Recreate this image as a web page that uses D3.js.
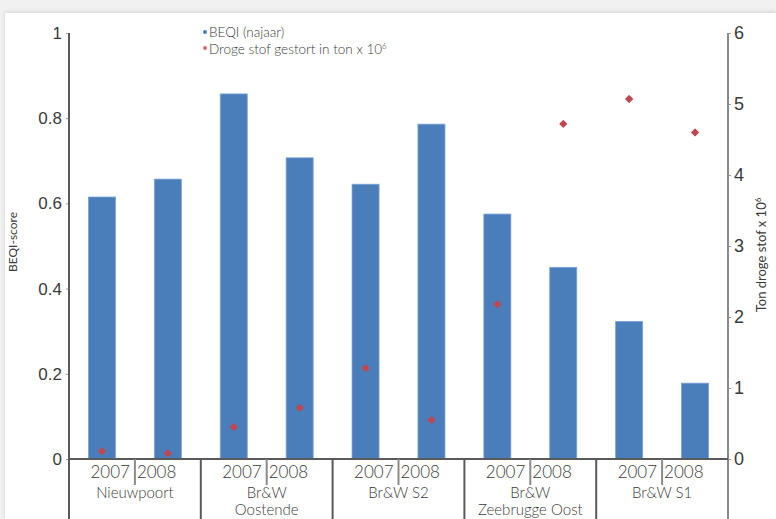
<!DOCTYPE html>
<html><head><meta charset="utf-8">
<script src="https://cdn.jsdelivr.net/npm/d3@7"></script>
<style>
html,body{margin:0;padding:0;background:#fff;}
svg{display:block;font-family:Lato,"Open Sans",sans-serif;}
</style></head>
<body>
<svg id="c" width="776" height="519"></svg>
<script>
const groups = [["Nieuwpoort"],["Br&W","Oostende"],["Br&W S2"],["Br&W","Zeebrugge Oost"],["Br&W S1"]];
const years = ["2007","2008"];
const beqi = [0.615,0.657,0.857,0.707,0.645,0.786,0.575,0.45,0.323,0.178];
const droge = [0.11,0.08,0.45,0.72,1.28,0.55,2.18,4.72,5.07,4.6];
const leftTicks = [0,0.2,0.4,0.6,0.8,1];
const rightTicks = [0,1,2,3,4,5,6];

const svg = d3.select("#c");
svg.append("rect").attr("x",0).attr("y",0).attr("width",776).attr("height",519).attr("fill","#f1f1f1");
svg.append("rect").attr("x",5).attr("y",13).attr("width",771).attr("height",506).attr("fill","#fff")
  .style("filter","drop-shadow(0px -1px 2px rgba(0,0,0,0.12))");

const L=69, R=728, T=33, B=459;
const cats = d3.range(groups.length*years.length);
const x = d3.scaleBand().domain(cats).range([L,R]).paddingInner(0.59).paddingOuter(0.295);
const gx = d3.scaleBand().domain(d3.range(groups.length)).range([L,R]);
const y = d3.scaleLinear().domain([0,1]).range([B,T]);
const y2 = d3.scaleLinear().domain([0,6]).range([B,T]);

svg.append("g").selectAll("rect").data(beqi).join("rect")
  .attr("x",(d,i)=>x(i)).attr("width",x.bandwidth())
  .attr("y",d=>y(d)).attr("height",d=>B-y(d))
  .attr("fill","#4a7ebb").attr("stroke","#7ba3d6").attr("stroke-width",0.8);

svg.append("g").selectAll("path").data(droge).join("path")
  .attr("d",d3.symbol().type(d3.symbolDiamond2).size(28))
  .attr("transform",(d,i)=>`translate(${x(i)+x.bandwidth()/2},${y2(d)})`)
  .attr("fill","#c0474f").attr("stroke","#c0474f").attr("stroke-width",1.2).attr("stroke-linejoin","round");

const axCol="#5a5a5a", txtCol="#3a3a3a";
const la = svg.append("g").attr("transform",`translate(${L},0)`)
  .call(d3.axisLeft(y).tickValues(leftTicks).tickFormat(d=>d===0||d===1?String(d):d3.format(".1f")(d)).tickSize(3).tickPadding(4));
la.select(".domain").remove();
la.selectAll("line").attr("stroke","#999");
la.selectAll("text").attr("font-size",17).attr("fill",txtCol).attr("font-weight",300);
svg.append("line").attr("x1",L).attr("x2",L).attr("y1",T).attr("y2",519).attr("stroke",axCol).attr("stroke-width",2);

const ra = svg.append("g").attr("transform",`translate(${R},0)`)
  .call(d3.axisRight(y2).tickValues(rightTicks).tickFormat(d3.format("d")).tickSize(3).tickPadding(3));
ra.select(".domain").remove();
ra.selectAll("line").attr("stroke","#999");
ra.selectAll("text").attr("font-size",18).attr("fill",txtCol).attr("font-weight",300);
svg.append("line").attr("x1",R).attr("x2",R).attr("y1",T).attr("y2",519).attr("stroke","#8a8a8a").attr("stroke-width",2);

svg.append("line").attr("x1",L).attr("x2",R).attr("y1",B).attr("y2",B).attr("stroke",axCol).attr("stroke-width",2);
gx.domain().forEach(g=>{
  const x0 = gx(g), xm = x0+gx.bandwidth()/2;
  if(g>0) svg.append("line").attr("x1",x0).attr("x2",x0).attr("y1",B).attr("y2",519).attr("stroke",axCol).attr("stroke-width",2);
  svg.append("line").attr("x1",xm).attr("x2",xm).attr("y1",B).attr("y2",485).attr("stroke","#8a8a8a").attr("stroke-width",2);
  svg.append("text").attr("x",xm-5).attr("y",478).attr("text-anchor","end").attr("font-size",17).attr("fill",txtCol).attr("font-weight",300).text(years[0]);
  svg.append("text").attr("x",xm+2).attr("y",478).attr("text-anchor","start").attr("font-size",17).attr("fill",txtCol).attr("font-weight",300).text(years[1]);
  groups[g].forEach((ln,k)=>{
    svg.append("text").attr("x",xm).attr("y",498+k*17).attr("text-anchor","middle").attr("font-size",15).attr("fill",txtCol).attr("font-weight",300).text(ln);
  });
});

svg.append("text").attr("transform","translate(17,242) rotate(-90)").attr("text-anchor","middle")
  .attr("font-size",12).attr("fill",txtCol).text("BEQI-score");
const t2 = svg.append("text").attr("transform","translate(766,255) rotate(-90)").attr("text-anchor","middle")
  .attr("font-size",13).attr("fill",txtCol);
t2.append("tspan").text("Ton droge stof x 10");
t2.append("tspan").attr("font-size",8).attr("dy",-5).text("6");

const lg = svg.append("g");
lg.append("circle").attr("cx",205).attr("cy",32).attr("r",2).attr("fill","#4a7ebb");
lg.append("text").attr("x",209).attr("y",37).attr("font-size",13.5).attr("fill",txtCol).attr("font-weight",300).text("BEQI (najaar)");
lg.append("circle").attr("cx",205).attr("cy",48).attr("r",2).attr("fill","#d06a70");
const lt = lg.append("text").attr("x",209).attr("y",54).attr("font-size",13.5).attr("fill",txtCol).attr("font-weight",300);
lt.append("tspan").text("Droge stof gestort in ton x 10");
lt.append("tspan").attr("font-size",8).attr("dy",-5).text("6");
</script>
</body></html>
